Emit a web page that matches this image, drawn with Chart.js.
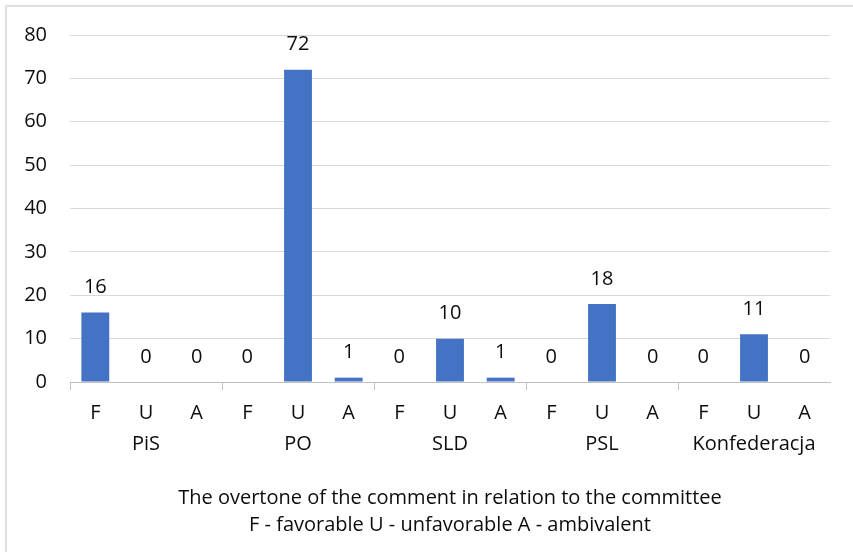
<!DOCTYPE html>
<html>
<head>
<meta charset="utf-8">
<script src="https://cdn.jsdelivr.net/npm/chart.js@4/dist/chart.umd.min.js"></script>
<style>
  body { margin: 0; background: #fff; overflow: hidden; }
  #frame { position: absolute; left: 5px; top: 5px; width: 900px; height: 600px; border: 2px solid #e0e0e0; }
  #myChart { position: absolute; left: 0; top: 0; }
</style>
</head>
<body>
<div id="frame"></div>
<canvas id="myChart" width="853" height="552"></canvas>
<script>
const parties = ["PiS", "PO", "SLD", "PSL", "Konfederacja"];
const overtones = ["F", "U", "A"];
// values per party, in F / U / A order
const pis = [16, 0, 0];
const po = [0, 72, 1];
const sld = [0, 10, 1];
const psl = [0, 18, 0];
const konfederacja = [0, 11, 0];
const yTicks = [0, 10, 20, 30, 40, 50, 60, 70, 80];
const titleLines = [
  "The overtone of the comment in relation to the committee",
  "F - favorable U - unfavorable A - ambivalent"
];

const groups = [pis, po, sld, psl, konfederacja];
const labels = [];
const values = [];
parties.forEach((p, gi) => {
  overtones.forEach((o, oi) => {
    // party name goes on the second line under the middle bar
    labels.push([o, oi === 1 ? p : ""]);
    values.push(groups[gi][oi]);
  });
});

const FONT = "'Open Sans', sans-serif";
const TEXT = "#0d0d0d";

const valueLabels = {
  id: "valueLabels",
  afterDatasetsDraw(chart) {
    const ctx = chart.ctx;
    const meta = chart.getDatasetMeta(0);
    ctx.save();
    ctx.font = "20px " + FONT;
    ctx.fillStyle = TEXT;
    ctx.textAlign = "center";
    ctx.textBaseline = "middle";
    meta.data.forEach((bar, i) => {
      ctx.fillText(String(values[i]), bar.x, bar.y - 25);
    });
    ctx.restore();
  }
};

new Chart(document.getElementById("myChart"), {
  type: "bar",
  data: {
    labels: labels,
    datasets: [{
      data: values,
      backgroundColor: "#4472C4",
      categoryPercentage: 1,
      barPercentage: 0.55
    }]
  },
  options: {
    responsive: false,
    animation: false,
    layout: { padding: { left: 0, right: 23, top: 35, bottom: 13 } },
    plugins: {
      legend: { display: false },
      tooltip: { enabled: false }
    },
    scales: {
      x: {
        grid: {
          offset: true,
          drawOnChartArea: false,
          tickLength: 8,
          color: (c) => (c.index % 3 === 0 ? "#bfbfbf" : "transparent")
        },
        border: { color: "#bfbfbf" },
        ticks: {
          autoSkip: false,
          maxRotation: 0,
          padding: 8,
          color: TEXT,
          font: { family: FONT, size: 20, lineHeight: 1.55 }
        },
        title: {
          display: true,
          text: titleLines,
          color: TEXT,
          padding: { top: 17, bottom: 0 },
          font: { family: FONT, size: 20, lineHeight: 1.35 }
        }
      },
      y: {
        min: 0,
        max: 80,
        afterBuildTicks: (s) => { s.ticks = yTicks.map(v => ({ value: v })); },
        afterFit: (s) => { s.width = 70; },
        grid: { color: "#d9d9d9", drawTicks: false },
        border: { display: false },
        ticks: {
          padding: 23,
          color: TEXT,
          font: { family: FONT, size: 20 }
        }
      }
    }
  },
  plugins: [valueLabels]
});
</script>
</body>
</html>
